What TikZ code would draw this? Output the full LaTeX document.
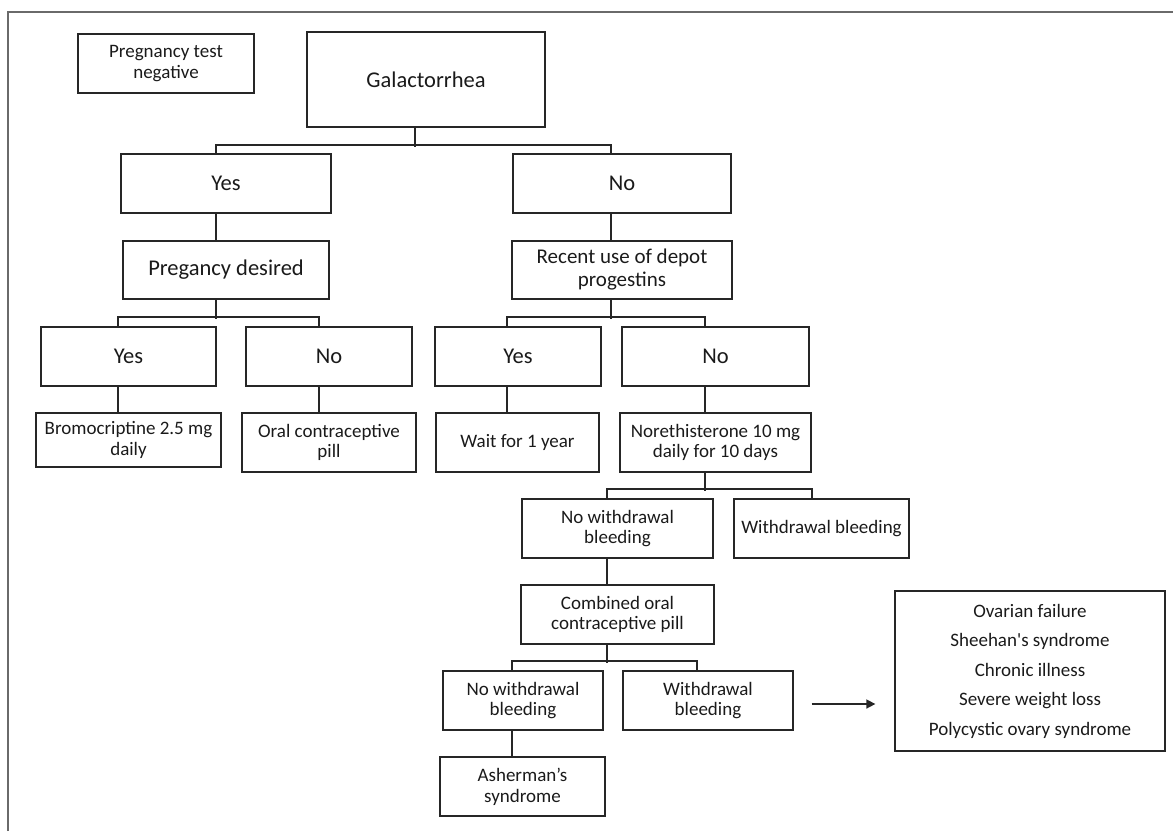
\documentclass[tikz,border=0pt]{standalone}
\usepackage{fontspec}
\setmainfont{Carlito}
\usetikzlibrary{arrows.meta}
\definecolor{boxc}{HTML}{262626}
\definecolor{framec}{HTML}{6A6A6A}
\definecolor{txtc}{HTML}{1A1A1A}
\tikzset{
  box/.style={draw=boxc, line width=1.3pt, inner sep=0pt, align=center, text=txtc,
              font=\fontsize{19}{20.7}\selectfont},
  bigtxt/.style={font=\fontsize{22.5}{24}\selectfont},
  midtxt/.style={font=\fontsize{21}{23}\selectfont},
  sz/.style 2 args={minimum width=#1pt, minimum height=#2pt},
  conn/.style={draw=boxc, line width=2pt},
  arr/.style={draw=boxc, line width=1.6pt, -{Triangle[length=9pt,width=9pt]}}
}
\begin{document}
\begin{tikzpicture}[x=1pt,y=1pt]
\useasboundingbox (0,0) rectangle (1173,-831);
% frame
\draw[framec, line width=1.6pt] (8,-831) -- (8,-12) -- (1173,-12);

% nodes
\node[box, sz={176}{59}] (preg) at (166,-63.5) {Pregnancy test\\negative};
\node[box, bigtxt, sz={238}{95}] (gal) at (426,-79.5) {Galactorrhea};
\node[box, bigtxt, sz={210}{59}] (yes1) at (226,-183.5) {Yes};
\node[box, bigtxt, sz={218}{59}] (no1) at (622,-183.5) {No};
\node[box, bigtxt, sz={206}{58}] (pd) at (226,-270) {Pregancy desired};
\node[box, midtxt, sz={220}{58}] (rec) at (622,-270) {Recent use of depot\\progestins};
\node[box, bigtxt, sz={175}{59}] (yes2) at (128.5,-356.5) {Yes};
\node[box, bigtxt, sz={166}{59}] (no2) at (329,-356.5) {No};
\node[box, bigtxt, sz={166}{59}] (yes3) at (518,-356.5) {Yes};
\node[box, bigtxt, sz={187}{59}] (no3) at (715.5,-356.5) {No};
\node[box, sz={185}{54}] (bromo) at (128.5,-440) {Bromocriptine 2.5 mg\\daily};
\node[box, sz={174}{59}] (ocp) at (329,-442.5) {Oral contraceptive\\pill};
\node[box, sz={163}{59}] (wait) at (517.5,-442.5) {Wait for 1 year};
\node[box, sz={191}{59}] (nor) at (715.5,-442.5) {Norethisterone 10 mg\\daily for 10 days};
\node[box, sz={191}{59}] (nwb) at (617.5,-528.5) {No withdrawal\\bleeding};
\node[box, sz={175}{59}] (wb) at (821.5,-528.5) {Withdrawal bleeding};
\node[box, sz={193}{59}] (coc) at (617.5,-614.5) {Combined oral\\contraceptive pill};
\node[box, sz={160}{59}] (nwb2) at (523,-700.5) {No withdrawal\\bleeding};
\node[box, sz={170}{59}] (wb2) at (708,-700.5) {Withdrawal\\bleeding};
\node[box, sz={165}{59}] (ash) at (522.5,-786.5) {Asherman’s\\syndrome};
\node[box, sz={270}{160}, font=\fontsize{19}{29.5}\selectfont] (big) at (1030,-671)
  {Ovarian failure\\Sheehan\textquotesingle s syndrome\\Chronic illness\\Severe weight loss\\Polycystic ovary syndrome};

% connectors
\draw[conn] ([xshift=-11pt]gal.south) -- ++(0,-19);
\draw[conn] ([xshift=-10pt]yes1.north) -- ++(0,8) -| ([xshift=-11pt]no1.north);
\draw[conn] ([xshift=-10pt]yes1.south) -- ([xshift=-10pt]pd.north);
\draw[conn] ([xshift=-11pt]no1.south) -- ([xshift=-11pt]rec.north);

\draw[conn] ([xshift=-10pt]pd.south) -- ++(0,-19);
\draw[conn] ([xshift=-10.5pt]yes2.north) -- ++(0,9) -| ([xshift=-10pt]no2.north);
\draw[conn] ([xshift=-11pt]rec.south) -- ++(0,-19);
\draw[conn] ([xshift=-11pt]yes3.north) -- ++(0,9) -| ([xshift=-10.5pt]no3.north);

\draw[conn] ([xshift=-10.5pt]yes2.south) -- ([xshift=-10.5pt]bromo.north);
\draw[conn] ([xshift=-10pt]no2.south) -- ([xshift=-10pt]ocp.north);
\draw[conn] ([xshift=-11pt]yes3.south) -- ([xshift=-10.5pt]wait.north);
\draw[conn] ([xshift=-10.5pt]no3.south) -- ([xshift=-10.5pt]nor.north);

\draw[conn] ([xshift=-10.5pt]nor.south) -- ++(0,-18);
\draw[conn] ([xshift=-10.5pt]nwb.north) -- ++(0,9) -| ([xshift=-9.5pt]wb.north);
\draw[conn] ([xshift=-10.5pt]nwb.south) -- ([xshift=-10.5pt]coc.north);

\draw[conn] ([xshift=-10.5pt]coc.south) -- ++(0,-18);
\draw[conn] ([xshift=-11pt]nwb2.north) -- ++(0,9) -| ([xshift=-11pt]wb2.north);
\draw[conn] ([xshift=-11pt]nwb2.south) -- ([xshift=-10.5pt]ash.north);

\draw[arr] ([xshift=18pt,yshift=-3.5pt]wb2.east) -- ([xshift=-19pt,yshift=-3.5pt]wb2.east -| big.west);
\end{tikzpicture}
\end{document}
